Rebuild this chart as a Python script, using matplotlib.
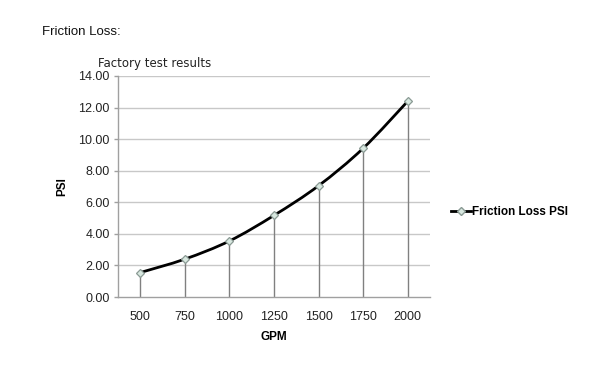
import matplotlib
matplotlib.use("Agg")
import matplotlib.pyplot as plt
from matplotlib.path import Path
from matplotlib.patches import PathPatch
from matplotlib.lines import Line2D
import numpy as np

categories = ["500", "750", "1000", "1250", "1500", "1750", "2000"]
psi = [1.55, 2.40, 3.55, 5.17, 7.05, 9.42, 12.40]
yticks = [0, 2, 4, 6, 8, 10, 12, 14]

plt.rcParams['font.family'] = ['Liberation Sans', 'DejaVu Sans']

fig = plt.figure(figsize=(6, 3.67), dpi=100)
ax = fig.add_axes([118/600, 1-297/367, 312/600, 221/367])

x = np.arange(len(categories))
ax.set_xlim(-0.5, len(categories) - 0.5)
ax.set_ylim(0, 14)

# gridlines
for t in yticks[1:]:
    ax.axhline(t, color="#c8c8c8", lw=1.0, zorder=0)

# drop lines
ax.vlines(x, 0, psi, color="#808080", lw=1.0, zorder=1)

# smooth line through points (Catmull-Rom as cubic Bezier)
pts = np.column_stack([x, psi]).astype(float)
verts = [tuple(pts[0])]
codes = [Path.MOVETO]
n = len(pts)
for i in range(n - 1):
    p0 = pts[i - 1] if i > 0 else pts[i]
    p1 = pts[i]
    p2 = pts[i + 1]
    p3 = pts[i + 2] if i + 2 < n else pts[i + 1]
    c1 = p1 + (p2 - p0) / 6.0
    c2 = p2 - (p3 - p1) / 6.0
    verts += [tuple(c1), tuple(c2), tuple(p2)]
    codes += [Path.CURVE4, Path.CURVE4, Path.CURVE4]
ax.add_patch(PathPatch(Path(verts, codes), fill=False, edgecolor="black", lw=2.0, zorder=2))

ax.plot(x, psi, linestyle="none", marker="D", markersize=4.5,
        markerfacecolor="#d8e8e0", markeredgecolor="#8a9a94", markeredgewidth=0.9, zorder=3)

ax.set_xticks(x)
ax.set_xticklabels(categories)
ax.set_yticks(yticks)
ax.set_yticklabels([f"{v:.2f}" for v in yticks])
ax.tick_params(axis="x", length=0, pad=10, labelsize=9, colors="#222222")
ax.tick_params(axis="y", length=3, width=1, color="#a0a0a0", pad=3, labelsize=9, labelcolor="#222222")

for s in ["top", "right"]:
    ax.spines[s].set_visible(False)
ax.spines["left"].set_color("#a0a0a0")
ax.spines["bottom"].set_color("#a0a0a0")
ax.spines["left"].set_linewidth(1.0)
ax.spines["bottom"].set_linewidth(1.0)

ax.set_xlabel("GPM", fontsize=8.5, fontweight="bold", labelpad=6)
ax.set_ylabel("PSI", fontsize=8.5, fontweight="bold", labelpad=7)

fig.text(42/600, 1-32/367, "Friction Loss:", fontsize=9.5, va="center", ha="left", color="#111111")
fig.text(98/600, 1-64/367, "Factory test results", fontsize=8.5, va="center", ha="left",
         family="DejaVu Sans", color="#222222")

# legend
handle = Line2D([0], [0], color="black", lw=2, marker="D", markersize=4,
                markerfacecolor="#d8e8e0", markeredgecolor="#8a9a94")
leg = fig.legend([handle], ["Friction Loss PSI"], loc="center left",
                 bbox_to_anchor=(440/600, 1-212/367), frameon=False,
                 prop={"size": 8.5, "weight": "bold"}, handlelength=1.7, handletextpad=0.1)

fig.savefig("out.png", dpi=100)
